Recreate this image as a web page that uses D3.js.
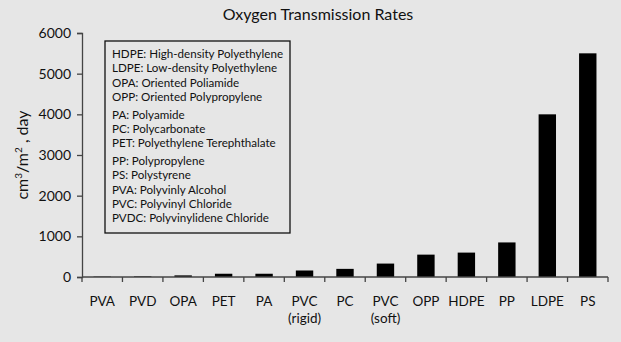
<!DOCTYPE html>
<html>
<head>
<meta charset="utf-8">
<script src="https://cdn.jsdelivr.net/npm/d3@7"></script>
<style>
	body { margin: 0; background: #e6e6e6; }
	svg text { font-family: Lato, 'Open Sans', sans-serif; fill: #111; }
</style>
</head>
<body>
<div id="chart"></div>
<script>
const categories = ['PVA', 'PVD', 'OPA', 'PET', 'PA', 'PVC\n(rigid)', 'PC', 'PVC\n(soft)', 'OPP', 'HDPE', 'PP', 'LDPE', 'PS']
const rates = [10, 15, 40, 80, 80, 160, 200, 330, 550, 600, 850, 4000, 5500]
const yTicks = [0, 1000, 2000, 3000, 4000, 5000, 6000]
// legend groups, small gap between them
const legendGroups = [
	['HDPE: High-density Polyethylene', 'LDPE: Low-density Polyethylene', 'OPA: Oriented Poliamide', 'OPP: Oriented Polypropylene'],
	['PA: Polyamide', 'PC: Polycarbonate', 'PET: Polyethylene  Terephthalate'],
	['PP: Polypropylene', 'PS: Polystyrene', 'PVA: Polyvinly Alcohol', 'PVC: Polyvinyl Chloride', 'PVDC: Polyvinylidene Chloride'],
]

const width = 621
const height = 342
const margin = { top: 33, right: 13, bottom: 65, left: 82 }

const svg = d3
	.select('#chart')
	.append('svg')
	.attr('width', width)
	.attr('height', height)

svg.append('rect').attr('width', width).attr('height', height).attr('fill', '#e6e6e6')

const x = d3
	.scaleBand()
	.domain(categories)
	.range([margin.left, width - margin.right])
	.paddingInner(0.57)
	.paddingOuter(0.285)

const y = d3
	.scaleLinear()
	.domain([0, 6000])
	.range([height - margin.bottom, margin.top])

// title
svg.append('text')
	.attr('x', 318)
	.attr('y', 20)
	.attr('text-anchor', 'middle')
	.attr('font-size', 16)
	.text('Oxygen Transmission Rates')

// bars
svg.append('g')
	.selectAll('rect')
	.data(rates)
	.join('rect')
	.attr('x', (d, i) => x(categories[i]))
	.attr('y', (d) => y(d))
	.attr('width', x.bandwidth())
	.attr('height', (d) => y(0) - y(d))
	.attr('fill', '#000')

// y axis
const yAxis = svg.append('g')
	.attr('transform', `translate(${margin.left},0)`)
	.call(d3.axisLeft(y).tickValues(yTicks).tickSize(5).tickPadding(6).tickFormat(d3.format('d')))
yAxis.select('.domain').attr('stroke', '#444').attr('stroke-width', 1.3)
yAxis.selectAll('.tick line').attr('stroke', '#444').attr('stroke-width', 1.3)
yAxis.selectAll('text').attr('font-size', 14).attr('font-family', 'Lato, sans-serif').attr('fill', '#111')

// x axis: ticks on band edges
const edges = d3.range(categories.length + 1).map((i) => margin.left + i * (width - margin.left - margin.right) / categories.length)
const xg = svg.append('g')
xg.append('line')
	.attr('x1', margin.left).attr('x2', width - margin.right)
	.attr('y1', y(0)).attr('y2', y(0))
	.attr('stroke', '#444').attr('stroke-width', 1.3)
xg.selectAll('.edge')
	.data(edges)
	.join('line')
	.attr('class', 'edge')
	.attr('x1', (d) => d).attr('x2', (d) => d)
	.attr('y1', y(0)).attr('y2', y(0) + 5)
	.attr('stroke', '#444').attr('stroke-width', 1.3)

const labels = xg.selectAll('.lab')
	.data(categories)
	.join('text')
	.attr('class', 'lab')
	.attr('text-anchor', 'middle')
	.attr('font-size', 13.5)
	.attr('transform', (d) => `translate(${x(d) + x.bandwidth() / 2},${y(0) + 29})`)
labels.selectAll('tspan')
	.data((d) => d.split('\n'))
	.join('tspan')
	.attr('x', 0)
	.attr('dy', (d, i) => (i === 0 ? 0 : 17))
	.text((d) => d)

// y label
const yl = svg.append('text')
	.attr('transform', 'translate(28,155) rotate(-90)')
	.attr('text-anchor', 'middle')
	.attr('font-size', 16)
yl.append('tspan').text('cm')
yl.append('tspan').attr('font-size', 10).attr('dy', -6).text('3')
yl.append('tspan').attr('dy', 6).text('/m')
yl.append('tspan').attr('font-size', 10).attr('dy', -6).text('2')
yl.append('tspan').attr('dy', 6).text(' , day')

// legend box
const legend = svg.append('g')
legend.append('rect')
	.attr('x', 105).attr('y', 41)
	.attr('width', 185).attr('height', 192)
	.attr('fill', 'none')
	.attr('stroke', '#111')
	.attr('stroke-width', 1.3)

let ly = 58
legendGroups.forEach((grp, gi) => {
	if (gi > 0) ly += 3.5
	grp.forEach((t) => {
		legend.append('text')
			.attr('x', 112)
			.attr('y', ly)
			.attr('font-size', 11.6)
			.text(t)
		ly += 14.3
	})
})
</script>
</body>
</html>
